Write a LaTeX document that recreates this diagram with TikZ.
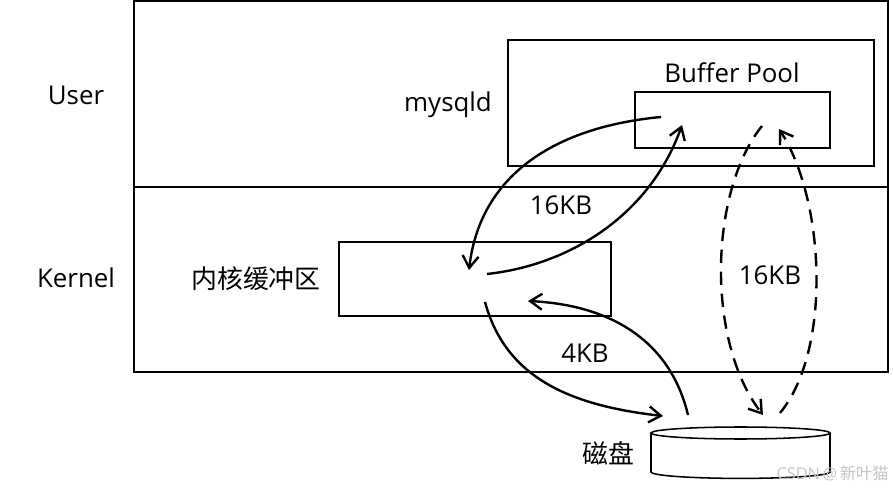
\documentclass[tikz,border=0pt]{standalone}
\usepackage{fontspec}
\setmainfont{Open Sans}
\newfontfamily\cjk{Noto Sans CJK SC}
\usetikzlibrary{arrows.meta}
\definecolor{markGray}{HTML}{C4C4C4}
\begin{document}
\begin{tikzpicture}[x=0.75pt, y=-0.75pt,
  box/.style={draw, line width=1.15pt, rectangle, outer sep=0pt, inner sep=0pt},
  lbl/.style={font=\fontsize{19.4}{21}\selectfont, inner sep=0pt},
  link/.style={line width=1.8pt, -{Straight Barb[length=9pt, width=12pt, line width=1.8pt]}},
  dlink/.style={link, dash pattern=on 10pt off 6.5pt}]
  \useasboundingbox (0,0) rectangle (893,488);
  \node[box, minimum width=565.5pt, minimum height=139.5pt] (user) at (511,94) {};
  \node[box, minimum width=565.5pt, minimum height=138.75pt] (kernel) at (511,279.5) {};
  \node[box, minimum width=274.5pt, minimum height=94.5pt] (mysqld) at (691,103) {};
  \node[box, minimum width=146.25pt, minimum height=42pt] (pool) at (732.5,120) {};
  \node[box, minimum width=204pt, minimum height=55.5pt] (kbuf) at (475,279) {};
  \node[outer sep=0pt, inner sep=0pt, minimum width=134.25pt, minimum height=29.25pt] (disk) at (740.5,452.5) {};
  \draw[line width=1.15pt] (disk.north west) -- (disk.south west)
    arc[start angle=180, end angle=360, x radius=67.125pt, y radius=4.8pt] -- (disk.north east);
  \draw[line width=1.15pt] (disk.north) ellipse[x radius=67.125pt, y radius=4.5pt];

  \node[lbl] (userL) at (76,95) {User};
  \node[lbl] (kernelL) at (76,278) {Kernel};
  \node[lbl] (mysqldL) at (448,105) {mysqld};
  \node[lbl] (poolL) at (732,73) {Buffer Pool};
  \node[lbl] (kbufL) at (256,279) {\cjk 内核缓冲区};
  \node[lbl] (diskL) at (608,453) {\cjk 磁盘};
  \node[lbl] (s1) at (561,205) {16KB};
  \node[lbl] (s2) at (770,275) {16KB};
  \node[lbl] (s3) at (585,353) {4KB};
  \node[font=\fontsize{12.2}{13}\selectfont, text=markGray, anchor=east, inner sep=0pt] (mark) at (889,473) {CSDN\,@\,{\cjk 新叶猫}};

  \coordinate (a0) at (661,117);
  \coordinate (a1) at (469,270);
  \coordinate (b0) at (487,274);
  \coordinate (b1) at (682,125);
  \coordinate (c0) at (762,126);
  \coordinate (c1) at (763,415);
  \coordinate (d0) at (780,413);
  \coordinate (d1) at (779,129);
  \coordinate (e0) at (688,415);
  \coordinate (e1) at (528,301);
  \coordinate (f0) at (485,302);
  \coordinate (f1) at (663,416);

  \draw[link] (a0) .. controls (555,127) and (480,175) .. (a1);
  \draw[link] (b0) .. controls (570,265) and (650,215) .. (b1);
  \draw[dlink] (c0) .. controls (710,190) and (705,340) .. (c1);
  \draw[dlink] (d0) .. controls (832,350) and (825,200) .. (d1);
  \draw[link] (e0) .. controls (670,340) and (610,305) .. (e1);
  \draw[link] (f0) .. controls (505,375) and (565,405) .. (f1);
\end{tikzpicture}
\end{document}
